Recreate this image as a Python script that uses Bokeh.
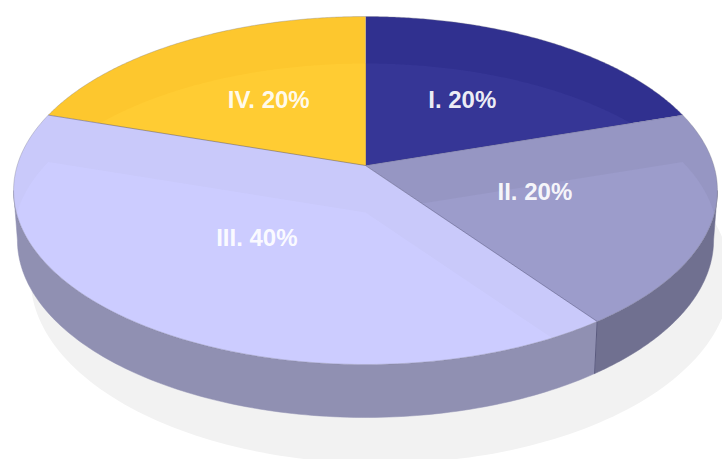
import numpy as np
from bokeh.plotting import figure
from bokeh.models import Range1d
from bokeh.core.properties import value
from bokeh.embed import file_html
from bokeh.resources import INLINE

categories = ["I", "II", "III", "IV"]
values = [20, 20, 40, 20]
top_colors = ["#30308F", "#9696C3", "#C9C9FA", "#FDC72E"]
light_colors = ["#363696", "#9C9CCB", "#CCCCFF", "#FFCC33"]
wall_colors = ["#1F1F60", "#707090", "#9090B2", "#A08020"]
edge_alphas = [0.0, 0.3, 0.55, 0.5]

CX, CY = 365.0, 165.0
A, B, K = 348.3, 170.4, 0.1437
GLOSS = 47.0


def project(theta, r=1.0, sx=1.0, sy=1.0, dy=0.0):
    u, v = r * np.sin(theta), r * np.cos(theta)
    d = 1 + K * v
    return CX + sx * A * u / d, CY + dy - sy * B * v / d


def clip_convex(subject, clipper):
    # Sutherland-Hodgman, clipper is convex
    area = 0.5 * sum(clipper[i][0] * clipper[(i + 1) % len(clipper)][1]
                     - clipper[(i + 1) % len(clipper)][0] * clipper[i][1]
                     for i in range(len(clipper)))
    sgn = 1 if area > 0 else -1
    out = list(subject)
    for i in range(len(clipper)):
        a, b = clipper[i], clipper[(i + 1) % len(clipper)]
        if abs(a[0] - b[0]) + abs(a[1] - b[1]) < 1e-9:
            continue
        def side(p):
            return sgn * ((b[0] - a[0]) * (p[1] - a[1]) - (b[1] - a[1]) * (p[0] - a[0]))
        inp, out = out, []
        for j in range(len(inp)):
            p, q = inp[j], inp[(j + 1) % len(inp)]
            sp, sq = side(p), side(q)
            if sp >= 0:
                out.append(p)
            if sp * sq < 0:
                t = sp / (sp - sq)
                out.append((p[0] + t * (q[0] - p[0]), p[1] + t * (q[1] - p[1])))
        if not out:
            break
    return out


p = figure(width=722, height=459, x_range=Range1d(0, 722), y_range=Range1d(459, 0),
           toolbar_location=None, output_backend="svg", min_border=0,
           outline_line_color=None, background_fill_color="white")
p.axis.visible = False
p.grid.visible = False

# ground shadow
ts = np.linspace(0, 2 * np.pi, 240)
p.patch(380 + 350 * np.cos(ts), 277 + 186 * np.sin(ts), fill_color="#F2F2F2", line_color=None)

fracs = np.array(values, dtype=float) / sum(values)
edges = np.concatenate([[0], np.cumsum(fracs)]) * 2 * np.pi
sil_a = np.arccos(-K)
sil_b = 2 * np.pi - sil_a
WALL = dict(sx=0.989, sy=1.02, dy=49.0)

# side walls
for i in range(len(values)):
    a0, a1 = max(edges[i], sil_a), min(edges[i + 1], sil_b)
    if a1 <= a0:
        continue
    t = np.linspace(a0, a1, 120)
    xt, yt = project(t)
    xb, yb = project(t, **WALL)
    p.patch(np.r_[xt, xb[::-1]], np.r_[yt, yb[::-1]], fill_color=wall_colors[i],
            line_color=wall_colors[i], line_width=0.5)

# darker sliver of the gloss on the wall of slice III next to the seam
i3 = categories.index("III")
seam = edges[i3]
sx0, sy0 = CX, CY + GLOSS
sx1, sy1 = project(seam, dy=GLOSS)
t = np.linspace(seam, seam + 0.6, 80)
xt, yt = project(t)
xb, yb = project(t, **WALL)
poly = np.r_[np.c_[xt, yt], np.c_[xb, yb][::-1]]
m = (sy1 - sy0) / (sx1 - sx0)
keep = poly[:, 1] <= sy0 + m * (poly[:, 0] - sx0)
p.patch(poly[keep, 0], poly[keep, 1], fill_color="#8B8BAE", line_color=None)

# seam line on the wall
for e in edges[:-1]:
    if sil_a < e < sil_b:
        xa, ya = project(e)
        xc, yc = project(e, **WALL)
        p.line([xa, xc], [ya, yc], line_color="#5A5A7E", line_width=1)

# top faces
for i in range(len(values)):
    t = np.linspace(edges[i], edges[i + 1], 160)
    x, y = project(t)
    xs = np.r_[CX, x]
    ys = np.r_[CY, y]
    p.patch(xs, ys, fill_color=top_colors[i], line_color=None)
    base = list(zip(xs, ys))
    shifted = [(a, b + GLOSS) for a, b in base]
    inner = clip_convex(shifted, base)
    if inner:
        arr = np.array(inner)
        p.patch(arr[:, 0], arr[:, 1], fill_color=light_colors[i], line_color=None)

# slice edges
for e, alpha in zip(edges[:-1], edge_alphas):
    if alpha > 0:
        x, y = project(e)
        p.line([CX, x], [CY, y], line_color="#55557F", line_alpha=alpha, line_width=1)
t = np.linspace(0, 2 * np.pi, 360)
x, y = project(t)
p.line(x, y, line_color="#808090", line_alpha=0.35, line_width=1)

# labels
mids = (edges[:-1] + edges[1:]) / 2
lx, ly = project(mids, r=0.50)
labels = [f"{c}. {v}%" for c, v in zip(categories, values)]
p.text(lx, ly - 1, text=labels, text_color="white", text_align="center", text_baseline="middle",
       text_font=value("Liberation Sans"), text_font_style="bold", text_font_size="24px",
       text_alpha=0.93)

open("out.html", "w").write(file_html(p, INLINE))
